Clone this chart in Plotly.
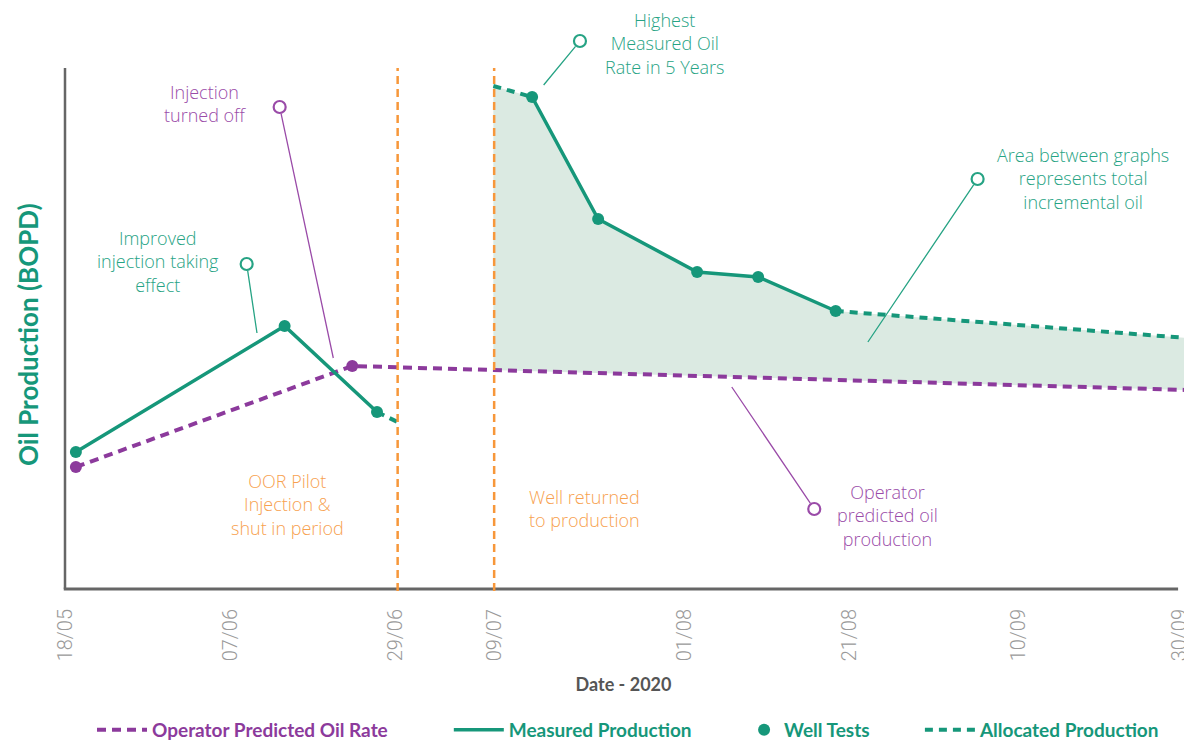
import numpy as np
import plotly.graph_objects as go

# ---------------- data ----------------
# x positions are chart positions in days after 18/05 (as laid out on the original chart)
tick_pos = [0, 20, 40, 52, 75, 95, 115.5, 135.0]
tick_labels = ["18/05", "07/06", "29/06", "09/07", "01/08", "21/08", "10/09", "30/09"]

predicted_x = [1.2, 34.7, 135.9]
predicted_bopd = [121, 222, 198]

measured_early_x = [1.2, 26.5, 37.7]
measured_early_bopd = [136, 262, 176]
measured_late_x = [56.5, 64.5, 76.5, 83.9, 93.3]
measured_late_bopd = [491, 369, 316, 311, 277]

alloc_shutin_x = [37.7, 40.2]
alloc_shutin_bopd = [176, 166]
alloc_restart_x = [51.8, 56.5]
alloc_restart_bopd = [502, 491]
alloc_forecast_x = [93.3, 135.9]
alloc_forecast_bopd = [277, 250]

shut_in_x = 40.2
restart_x = 51.9

callout_text = ["Injection<br>turned off", "Improved<br>injection taking<br>effect",
                "Highest<br>Measured Oil<br>Rate in 5 Years",
                "Area between graphs<br>represents total<br>incremental oil",
                "Operator<br>predicted oil<br>production"]
callout_text_x = [16.85, 11.15, 72.6, 123.3, 99.6]
callout_text_y = [485, 327, 545, 410, 73]
callout_circle_x = [25.9, 21.9, 62.3, 110.5, 90.7]
callout_circle_y = [481, 324, 547, 409, 79]
callout_end_x = [32.4, 23.15, 57.9, 97.2, 80.7]
callout_end_y = [230, 255, 503, 246, 201]
callout_kind = ["p", "g", "g", "g", "p"]

period_text = ["OOR Pilot<br>Injection &<br>shut in period", "Well returned<br>to production"]
period_text_x = [26.8, 62.9]
period_text_y = [84, 79.5]

# axis extents of the drawn frame
frame_x0 = -0.12
frame_x1 = 134.8
frame_top = 520

# ---------------- style ----------------
GREEN = "#16977a"
PURPLE = "#8c3a9c"
ORANGE = "#f7973a"
FILL = "#dbeae2"
AXIS = "#666666"
TXT_G = "#26a384"
TXT_P = "#9a4ba8"
TXT_O = "#f7a14f"
col = {"g": TXT_G, "p": TXT_P}
NOTE_FONT = dict(family="Open Sans", size=18, weight=300)

fig = go.Figure()

# shaded incremental area
top_x = alloc_restart_x[:1] + measured_late_x + alloc_forecast_x[1:]
top_y = alloc_restart_bopd[:1] + measured_late_bopd + alloc_forecast_bopd[1:]
bot_x = [top_x[-1], top_x[0]]
bot_y = list(np.interp(bot_x, predicted_x, predicted_bopd))
fig.add_trace(go.Scatter(x=top_x + bot_x, y=top_y + bot_y, fill="toself", fillcolor=FILL,
                         mode="lines", line=dict(width=0), showlegend=False, hoverinfo="skip"))

# operator predicted
fig.add_trace(go.Scatter(x=predicted_x, y=predicted_bopd, mode="lines",
                         line=dict(color=PURPLE, width=4, dash="9px,6px"),
                         name="Operator Predicted Oil Rate", legend="legend"))
fig.add_trace(go.Scatter(x=predicted_x[:2], y=predicted_bopd[:2], mode="markers",
                         marker=dict(color=PURPLE, size=12), showlegend=False))

# allocated
ax_ = alloc_shutin_x + [None] + alloc_restart_x + [None] + alloc_forecast_x
ay_ = alloc_shutin_bopd + [None] + alloc_restart_bopd + [None] + alloc_forecast_bopd
fig.add_trace(go.Scatter(x=ax_, y=ay_, mode="lines", connectgaps=False,
                         line=dict(color=GREEN, width=4, dash="8px,6px"),
                         name="Allocated Production", legend="legend4"))

# measured
mx = measured_early_x + [None] + measured_late_x
my = measured_early_bopd + [None] + measured_late_bopd
fig.add_trace(go.Scatter(x=mx, y=my, mode="lines", connectgaps=False,
                         line=dict(color=GREEN, width=3.5),
                         name="Measured Production", legend="legend2"))

# well tests
fig.add_trace(go.Scatter(x=measured_early_x + measured_late_x,
                         y=measured_early_bopd + measured_late_bopd, mode="markers",
                         marker=dict(color=GREEN, size=12),
                         name="Well Tests", legend="legend3"))

annotations = []
for t, tx, ty, cx, cy, ex, ey, k in zip(callout_text, callout_text_x, callout_text_y,
                                         callout_circle_x, callout_circle_y,
                                         callout_end_x, callout_end_y, callout_kind):
    annotations.append(dict(x=tx, y=ty, xref="x", yref="y", text=t, showarrow=False,
                            xanchor="center", yanchor="middle", align="center",
                            font=dict(NOTE_FONT, color=col[k])))
    annotations.append(dict(x=ex, y=ey, ax=cx, ay=cy, xref="x", yref="y", axref="x", ayref="y",
                            text="", showarrow=True, arrowhead=0, arrowwidth=1.3,
                            arrowcolor=col[k], standoff=0, startstandoff=5))
for t, tx, ty in zip(period_text, period_text_x, period_text_y):
    annotations.append(dict(x=tx, y=ty, xref="x", yref="y", text=t, showarrow=False,
                            xanchor="center", yanchor="middle", align="center",
                            font=dict(NOTE_FONT, color=TXT_O)))

annotations.append(dict(x=-0.0284, y=254, xref="paper", yref="y", text="Oil Production (BOPD)",
                        textangle=-90, showarrow=False, xanchor="center", yanchor="middle",
                        font=dict(family="Lato", size=26, color=GREEN, weight=700)))

# callout circles
fig.add_trace(go.Scatter(x=callout_circle_x, y=callout_circle_y, mode="markers",
                         marker=dict(color="white", size=12,
                                     line=dict(color=[col[k] for k in callout_kind], width=2.2)),
                         cliponaxis=False, showlegend=False, hoverinfo="skip"))

shapes = [
    dict(type="line", xref="x", yref="y", x0=frame_x0, x1=frame_x0, y0=-1, y1=frame_top,
         line=dict(color=AXIS, width=2.5), layer="above"),
    dict(type="line", xref="x", yref="y", x0=frame_x0 - 0.15, x1=frame_x1, y0=-1, y1=-1,
         line=dict(color=AXIS, width=3), layer="above"),
]
for vx in [shut_in_x, restart_x]:
    shapes.append(dict(type="line", xref="x", yref="y", x0=vx, x1=vx, y0=-3, y1=frame_top,
                       line=dict(color=ORANGE, width=2.5, dash="8px,5px"), layer="above"))


def leg(x, color, iw=50):
    return dict(x=x, y=-0.236, xanchor="left", yanchor="middle", orientation="h",
                bgcolor="rgba(0,0,0,0)", itemwidth=iw,
                font=dict(family="Lato", size=19, color=color, weight=700))


fig.update_layout(
    width=1184, height=736,
    margin=dict(l=52, r=5, t=0, b=152, autoexpand=False),
    paper_bgcolor="white", plot_bgcolor="white",
    xaxis=dict(range=[-0.726, 135.88], showgrid=False, zeroline=False, showline=False,
               automargin=False, ticklabeloverflow="allow",
               tickmode="array", tickvals=tick_pos, ticktext=tick_labels, tickangle=-90,
               ticks="outside", ticklen=8, tickcolor="rgba(0,0,0,0)",
               tickfont=dict(family="Roboto", size=20, color="#9a9a9a", weight=300),
               title=dict(text="Date - 2020", standoff=18,
                          font=dict(family="Lato", size=18, color="#555555", weight=700))),
    yaxis=dict(range=[-4, 580], showgrid=False, zeroline=False, showticklabels=False,
               showline=False, automargin=False),
    legend=leg(0.0284, PURPLE),
    legend2=leg(0.345, GREEN),
    legend3=leg(0.607, GREEN, 30),
    legend4=leg(0.763, GREEN),
    annotations=annotations,
    shapes=shapes,
)

fig.write_html("out.html")
